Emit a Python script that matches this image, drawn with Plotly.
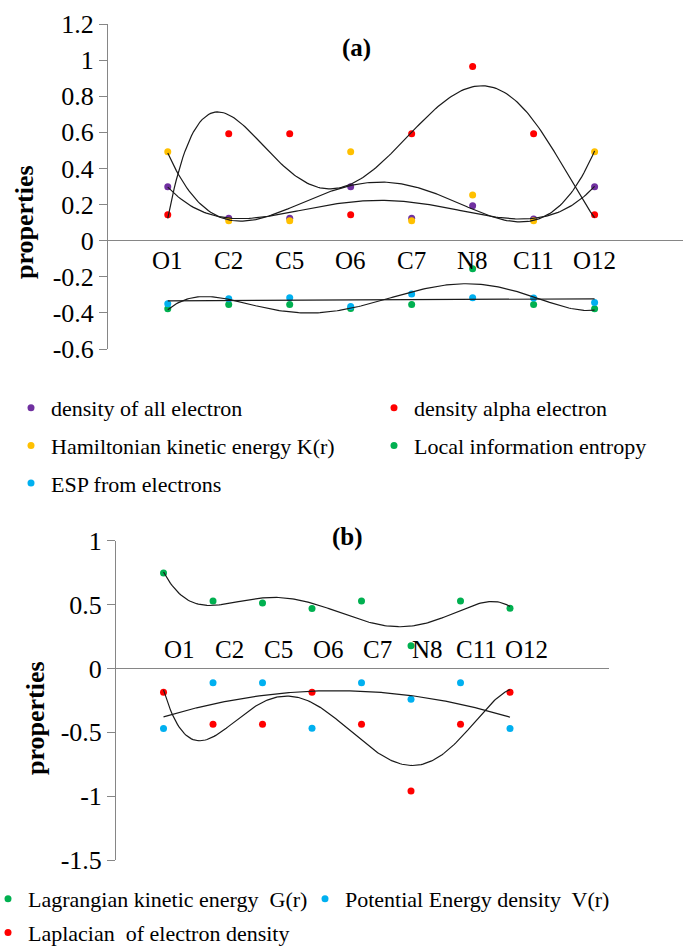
import numpy as np
import plotly.graph_objects as go

# ---------------- data ----------------
atoms = ["O1", "C2", "C5", "O6", "C7", "N8", "C11", "O12"]
atom_index = [1, 2, 3, 4, 5, 6, 7, 8]

# chart (a)
density_all = [0.299, 0.124, 0.124, 0.299, 0.124, 0.193, 0.120, 0.299]
density_alpha = [0.143, 0.592, 0.592, 0.143, 0.592, 0.964, 0.592, 0.143]
hamiltonian_K = [0.492, 0.111, 0.111, 0.492, 0.111, 0.253, 0.111, 0.492]
local_entropy = [-0.377, -0.353, -0.353, -0.375, -0.353, -0.156, -0.353, -0.377]
esp_electrons = [-0.349, -0.321, -0.316, -0.364, -0.295, -0.316, -0.318, -0.342]

# chart (b)
lagrangian_G = [0.747, 0.528, 0.512, 0.469, 0.528, 0.177, 0.528, 0.471]
potential_V = [-0.470, -0.1125, -0.1125, -0.469, -0.1125, -0.242, -0.1125, -0.470]
laplacian = [-0.1875, -0.4375, -0.4375, -0.1875, -0.4375, -0.959, -0.4375, -0.1875]

ticks_a_vals = [-0.6, -0.4, -0.2, 0, 0.2, 0.4, 0.6, 0.8, 1, 1.2]
ticks_a_text = ["-0.6", "-0.4", "-0.2", "0", "0.2", "0.4", "0.6", "0.8", "1", "1.2"]
ticks_b_vals = [-1.5, -1, -0.5, 0, 0.5, 1]
ticks_b_text = ["-1.5", "-1", "-0.5", "0", "0.5", "1"]

# polynomial trendline orders (Excel-style trendlines)
series_a = [
    ("density of all electron", density_all, "#7030A0", 4, "legend"),
    ("density alpha electron", density_alpha, "#FF0000", 5, "legend2"),
    ("Hamiltonian kinetic energy K(r)", hamiltonian_K, "#FFC000", 4, "legend"),
    ("Local information entropy", local_entropy, "#00B050", 5, "legend2"),
    ("ESP from electrons", esp_electrons, "#00B0F0", 1, "legend"),
]
series_b = [
    ("Lagrangian kinetic energy  G(r)", lagrangian_G, "#00B050", 5, "legend3"),
    ("Potential Energy density  V(r)", potential_V, "#00B0F0", 2, "legend4"),
    ("Laplacian  of electron density", laplacian, "#FF0000", 5, "legend3"),
]

FONT = "Liberation Serif, Times New Roman, serif"
W, H = 684, 947

fig = go.Figure()
xfine = np.linspace(1, 8, 200)


def add_series(series, xa, ya):
    for name, vals, color, deg, leg in series:
        fig.add_trace(go.Scatter(
            x=atom_index, y=vals, mode="markers", name=name,
            marker=dict(color=color, size=7),
            xaxis=xa, yaxis=ya, legend=leg, legendgroup=name,
            hovertext=atoms,
        ))
    for name, vals, color, deg, leg in series:
        coef = np.polyfit(atom_index, vals, deg)
        fig.add_trace(go.Scatter(
            x=xfine, y=np.polyval(coef, xfine), mode="lines",
            line=dict(color="#1a1a1a", width=1.2),
            xaxis=xa, yaxis=ya, showlegend=False, hoverinfo="skip",
        ))


add_series(series_a, "x", "y")
add_series(series_b, "x2", "y2")


def px_x(p):
    return p / W


def px_y(p):
    return 1 - p / H


axis_gray = "#868686"
common_y = dict(
    showgrid=False, showline=True, linecolor=axis_gray, linewidth=1,
    ticks="outside", ticklen=8, tickcolor=axis_gray, tickwidth=1,
    zeroline=True, zerolinecolor=axis_gray, zerolinewidth=1,
    ticklabelstandoff=0,
    tickfont=dict(family=FONT, size=26, color="black"),
    tickmode="array",
)
common_x = dict(visible=False, showgrid=False, zeroline=False)

fig.update_layout(
    width=W, height=H,
    margin=dict(l=0, r=0, t=0, b=0, autoexpand=False),
    paper_bgcolor="white", plot_bgcolor="white",
    font=dict(family=FONT, color="black"),
    xaxis=dict(domain=[px_x(108), px_x(683)], range=[0.02, 9.45], **common_x),
    yaxis=dict(domain=[px_y(349), px_y(24)], range=[-0.6, 1.2],
               tickvals=ticks_a_vals, ticktext=ticks_a_text, **common_y),
    xaxis2=dict(domain=[px_x(116), px_x(609)], range=[0.04, 10], anchor="y2", **common_x),
    yaxis2=dict(domain=[px_y(860), px_y(540.7)], range=[-1.5, 1], anchor="x2",
                tickvals=ticks_b_vals, ticktext=ticks_b_text, **common_y),
    showlegend=True,
)

leg_common = dict(
    xanchor="left", yanchor="top", orientation="v",
    font=dict(family=FONT, size=22, color="black"),
    bgcolor="rgba(0,0,0,0)", traceorder="grouped",
)
fig.update_layout(
    legend=dict(x=px_x(11), y=px_y(387), tracegroupgap=6, **leg_common),
    legend2=dict(x=px_x(374), y=px_y(387), tracegroupgap=6, **leg_common),
    legend3=dict(x=px_x(-12), y=px_y(878), tracegroupgap=2, **leg_common),
    legend4=dict(x=px_x(305), y=px_y(878), tracegroupgap=2, **leg_common),
)

annotations = []
for i, a in zip(atom_index, atoms):
    annotations.append(dict(x=i, y=0, xref="x", yref="y", text=a, showarrow=False,
                            yshift=-20, font=dict(family=FONT, size=25)))
    annotations.append(dict(x=i, y=0, xref="x2", yref="y2", text=a, showarrow=False,
                            xshift=16, yshift=19, font=dict(family=FONT, size=25)))

paper_note = dict(xref="paper", yref="paper", showarrow=False,
                  xanchor="center", yanchor="middle")
annotations += [
    dict(x=px_x(357), y=px_y(48), text="<b>(a)</b>",
         font=dict(family=FONT, size=25), **paper_note),
    dict(x=px_x(347), y=px_y(537), text="<b>(b)</b>",
         font=dict(family=FONT, size=25), **paper_note),
    dict(x=px_x(25), y=px_y(222), text="<b>properties</b>", textangle=-90,
         font=dict(family=FONT, size=26), **paper_note),
    dict(x=px_x(35), y=px_y(718), text="<b>properties</b>", textangle=-90,
         font=dict(family=FONT, size=26), **paper_note),
]
fig.update_layout(annotations=annotations)

fig.write_html("out.html", config={"displayModeBar": False},
               post_script="document.body.style.margin='0px';")
